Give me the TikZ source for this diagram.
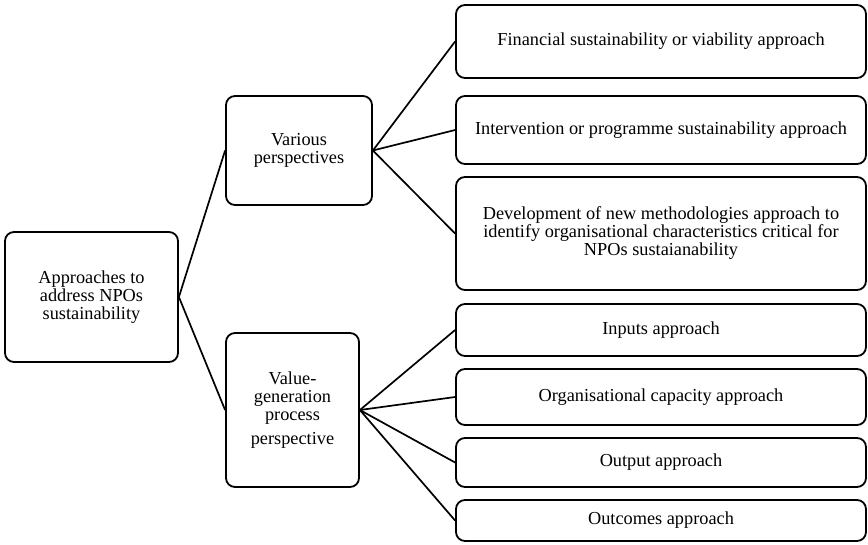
\documentclass[tikz,border=0pt]{standalone}
\usepackage{fontspec}
\setmainfont{Liberation Serif}

\begin{document}
\begin{tikzpicture}[x=1pt, y=-1pt,
    box/.style={draw, line width=1.8pt, rounded corners=9pt, align=center,
      inner sep=0pt, font=\fontsize{18.3}{18}\selectfont},
    link/.style={line width=1.7pt}]
    \useasboundingbox (0,0) rectangle (868,544);

    % left-hand root and the two perspectives
    \node[box, minimum width=173, minimum height=130] (root) at (91.5,297)
      {Approaches to\\address NPOs\\sustainability};
    \node[box, minimum width=146, minimum height=109] (various) at (299,150.5)
      {Various\\perspectives};
    \node[box, minimum width=133, minimum height=154] (value) at (292.5,410)
      {Value-\\generation\\process\\[6pt]perspective};

    % approaches on the right
    \node[box, minimum width=410, minimum height=73] (A1) at (661,41.5)
      {Financial sustainability or viability approach};
    \node[box, minimum width=410, minimum height=68] (A2) at (661,130)
      {Intervention or programme sustainability approach};
    \node[box, minimum width=410, minimum height=113] (A3) at (661,233.5)
      {Development of new methodologies approach to\\identify organisational characteristics critical for\\NPOs sustaianability};
    \node[box, minimum width=410, minimum height=52] (A4) at (661,330)
      {Inputs approach};
    \node[box, minimum width=410, minimum height=56] (A5) at (661,397)
      {Organisational capacity approach};
    \node[box, minimum width=410, minimum height=49] (A6) at (661,462.5)
      {Output approach};
    \node[box, minimum width=410, minimum height=41] (A7) at (661,520.5)
      {Outcomes approach};

    \draw[link] (various.west) -- (root.east) -- (value.west);
    \foreach \i in {1,2,3} {
      \draw[link] (various.east) -- (A\i.west);
    }
    \foreach \i in {4,5,6,7} {
      \draw[link] (value.east) -- (A\i.west);
    }
  \end{tikzpicture}
\end{document}
